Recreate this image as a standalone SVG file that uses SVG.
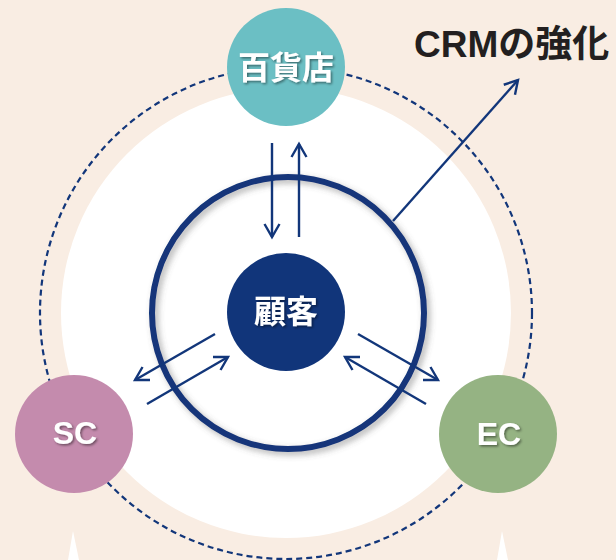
<svg xmlns="http://www.w3.org/2000/svg" width="616" height="560" viewBox="0 0 616 560">
  <defs>
    <style>
      .conn { stroke: #12367a; stroke-width: 2.4; fill: none; marker-end: url(#chev); }
      .label { fill: #ffffff; font-weight: bold; text-anchor: middle; filter: url(#tshadow); }
      .jp { font-family: "Noto Sans CJK JP", sans-serif; font-size: 32px; }
      .en { font-family: "Liberation Sans", Arial, sans-serif; font-size: 32px; }
    </style>
    <marker id="chev" markerUnits="userSpaceOnUse" markerWidth="20" markerHeight="20" viewBox="-15 -10 20 20" refX="0" refY="0" orient="auto">
      <path d="M-13,-7.5 L0,0 L-13,7.5" fill="none" stroke="#12367a" stroke-width="2.4" stroke-linejoin="miter"/>
    </marker>
    <filter id="tshadow" x="-20%" y="-20%" width="140%" height="140%">
      <feDropShadow dx="1.5" dy="1.5" stdDeviation="1" flood-color="#000" flood-opacity="0.45"/>
    </filter>
    <filter id="rshadow" x="-20%" y="-20%" width="140%" height="140%">
      <feDropShadow dx="3" dy="3" stdDeviation="3" flood-color="#555" flood-opacity="0.45"/>
    </filter>
  </defs>

  <rect x="0" y="0" width="616" height="560" fill="#f9ede3"/>
  <polygon points="73,531 68,560 79,560" fill="#ffffff"/>
  <polygon points="502,531 497,560 508,560" fill="#ffffff"/>

  <circle cx="286" cy="313" r="225" fill="#ffffff"/>
  <circle cx="286" cy="313" r="246" fill="none" stroke="#12367a" stroke-width="2.2" stroke-dasharray="6 4"/>

  <g id="ring">
    <circle cx="288" cy="313" r="136" fill="none" stroke="#12367a" stroke-width="6" filter="url(#rshadow)"/>
  </g>

  <g id="connectors">
    <line class="conn" x1="272" y1="143" x2="272" y2="237"/>
    <line class="conn" x1="299" y1="237" x2="299" y2="144"/>
    <line class="conn" x1="215" y1="334" x2="135" y2="380"/>
    <line class="conn" x1="147" y1="404" x2="228" y2="357"/>
    <line class="conn" x1="358" y1="334" x2="438" y2="380"/>
    <line class="conn" x1="426" y1="404" x2="345" y2="357"/>
    <line class="conn" x1="393" y1="221" x2="518" y2="80"/>
  </g>

  <g id="customer">
    <circle cx="286" cy="312" r="59" fill="#11357a"/>
    <text class="label jp" x="286" y="323">顧客</text>
  </g>
  <g id="depstore">
    <circle cx="286" cy="67" r="59" fill="#6bbfc4"/>
    <text class="label jp" x="286" y="79">百貨店</text>
  </g>
  <g id="sc">
    <circle cx="74" cy="434" r="59" fill="#c48bad"/>
    <text class="label en" x="75" y="444">SC</text>
  </g>
  <g id="ec">
    <circle cx="498" cy="434" r="59" fill="#95b383"/>
    <text class="label en" x="499" y="445">EC</text>
  </g>

  <g id="crm-label">
    <text x="414" y="57" font-family="'Liberation Sans', 'Noto Sans CJK JP', sans-serif" font-size="37" font-weight="bold" fill="#231f20">CRMの強化</text>
  </g>
</svg>
